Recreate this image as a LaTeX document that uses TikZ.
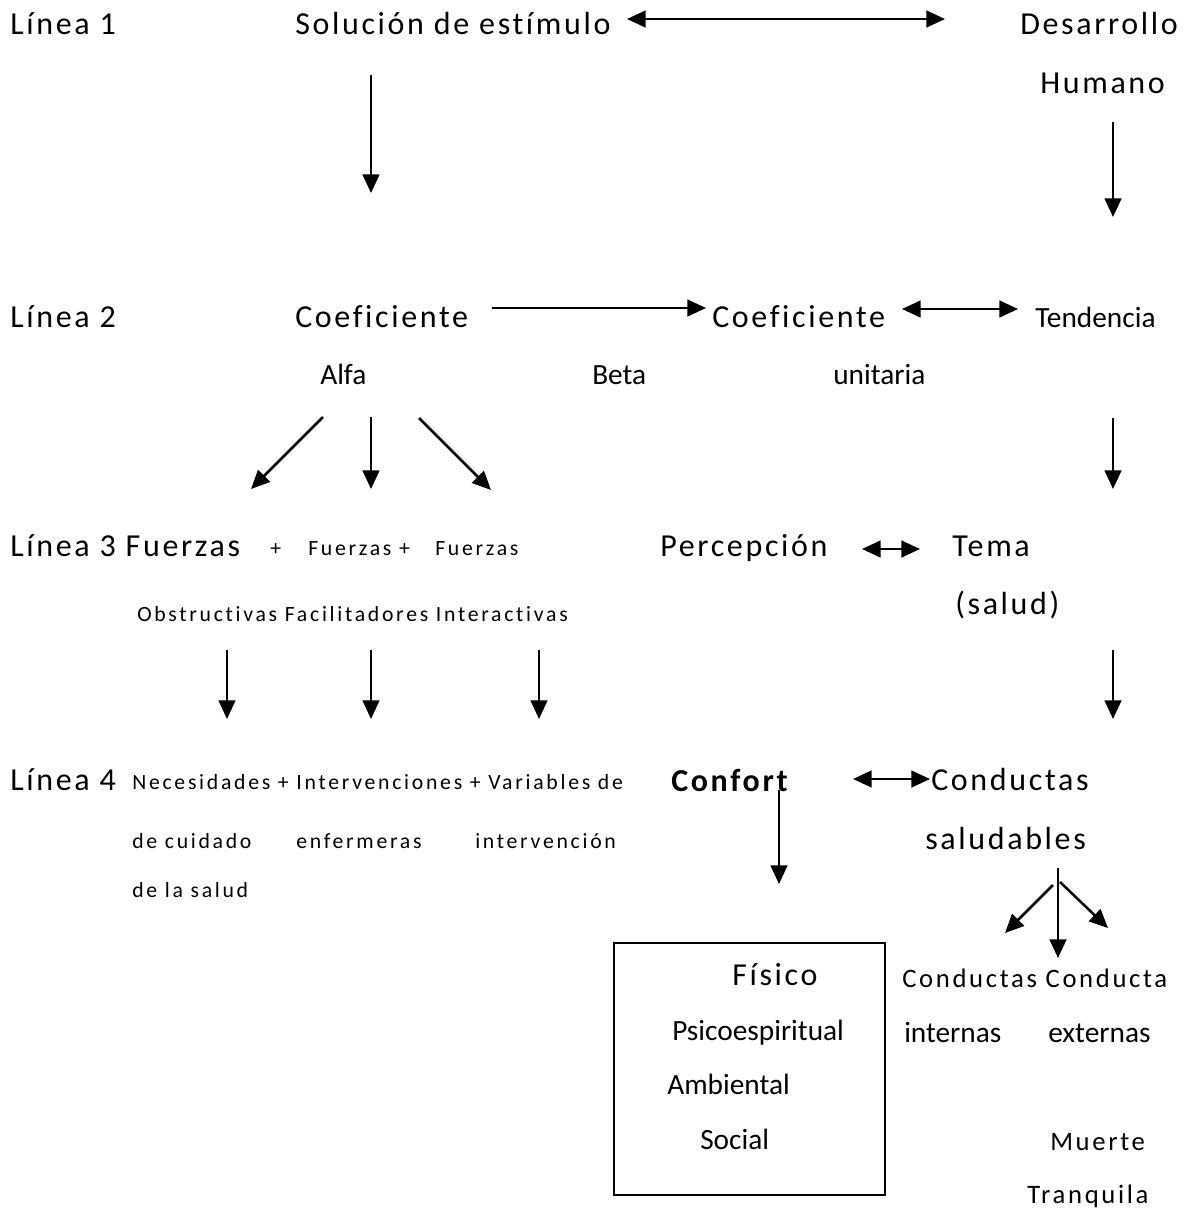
\documentclass[tikz,border=0pt]{standalone}
\usepackage{fontspec}
\setmainfont[Ligatures=NoCommon]{Carlito}
\newfontfamily\bigsp[LetterSpace=8.3,Ligatures=NoCommon]{Carlito}
\newfontfamily\medsp[LetterSpace=10,Ligatures=NoCommon]{Carlito}
\newfontfamily\smsp[LetterSpace=12.5,Ligatures=NoCommon]{Carlito}
\usetikzlibrary{arrows.meta}
\begin{document}
\begin{tikzpicture}[x=0.75pt,y=-0.75pt,
  t/.style={inner sep=0pt, anchor=base west},
  bigt/.style={t, font=\bigsp\fontsize{24}{28}\selectfont},
  boldt/.style={t, font=\bigsp\bfseries\fontsize{24}{28}\selectfont},
  plain/.style={t, font=\fontsize{22}{26}\selectfont},
  medt/.style={t, font=\medsp\fontsize{20}{24}\selectfont},
  smt/.style={t, font=\smsp\fontsize{16.3}{20}\selectfont},
  tip/.tip={Triangle[length=14pt,width=12.5pt]},
  arr/.style={line width=1.9pt, -tip},
  darr/.style={line width=1.9pt, tip-tip},
  framebox/.style={draw, line width=1.6pt, inner sep=0pt, anchor=north west,
    minimum width=203.25pt, minimum height=189pt}]
\fill[white] (0,0) rectangle (1183,1208);
\path[use as bounding box] (0,0) rectangle (1183,1208);

% Row 1
\node[bigt] (l1) at (10,34) {Línea 1};
\node[bigt] (sol) at (295,34) {Solución de estímulo};
\node[bigt] (des) at (1020,34) {Desarrollo};
\node[bigt] (hum) at (1040,93) {Humano};

% Row 2
\node[bigt] (l2) at (10,327) {Línea 2};
\node[bigt] (coa) at (295,327) {Coeficiente};
\node[bigt] (cob) at (712,327) {Coeficiente};
\node[plain] (ten) at (1035,327) {Tendencia};
\node[plain] (alfa) at (320,384) {Alfa};
\node[plain] (beta) at (592,384) {Beta};
\node[plain] (uni) at (833,384) {unitaria};

% Row 3
\node[bigt] (l3) at (10,556) {Línea 3 Fuerzas};
\node[smt] (p1) at (270,555) {+};
\node[smt] (f2) at (308,555) {Fuerzas +};
\node[smt] (f3) at (435,555) {Fuerzas};
\node[smt] (obs) at (137,621) {Obstructivas Facilitadores Interactivas};
\node[bigt] (per) at (660,556) {Percepción};
\node[bigt] (tema) at (952,556) {Tema};
\node[bigt] (salud) at (955,614) {(salud)};

% Row 4
\node[bigt] (l4) at (10,790) {Línea 4};
\node[smt] (nec) at (132,789) {Necesidades + Intervenciones + Variables de};
\node[smt] (cui) at (132,848) {de cuidado};
\node[smt] (enf) at (296,848) {enfermeras};
\node[smt] (intv) at (475,848) {intervención};
\node[smt] (dls) at (132,897) {de la salud};
\node[boldt] (conf) at (671,791) {Confort};
\node[bigt] (cond) at (931,790) {Conductas};
\node[bigt] (salu) at (925,849) {saludables};

% Box
\node[framebox] (box) at (613,942) {};
\node[bigt] (fis) at (732,985) {Físico};
\node[plain] (psi) at (672,1040) {Psicoespiritual};
\node[plain] (amb) at (667,1094) {Ambiental};
\node[plain] (soc) at (700,1149) {Social};

% Right bottom
\node[medt] (cc) at (902,987) {Conductas Conducta};
\node[plain] (inte) at (904,1042) {internas};
\node[plain] (ext) at (1048,1042) {externas};
\node[medt] (mue) at (1050,1150) {Muerte};
\node[medt] (tra) at (1027,1203) {Tranquila};

% Arrow end points
\coordinate (a1s) at (627,19);  \coordinate (a1e) at (945,19);
\coordinate (a2s) at (371,75);  \coordinate (a2e) at (371,193);
\coordinate (a3s) at (1113,122); \coordinate (a3e) at (1113,217);
\coordinate (a4s) at (492,308); \coordinate (a4e) at (706,308);
\coordinate (a5s) at (902,309); \coordinate (a5e) at (1018,309);
\coordinate (a6s) at (323,417); \coordinate (a6e) at (251,489);
\coordinate (a7s) at (371,417); \coordinate (a7e) at (371,489);
\coordinate (a8s) at (419,418); \coordinate (a8e) at (491,490);
\coordinate (a9s) at (1113,418); \coordinate (a9e) at (1113,489);
\coordinate (a10s) at (862,549); \coordinate (a10e) at (920,549);
\coordinate (a11s) at (227,650); \coordinate (a11e) at (227,719);
\coordinate (a12s) at (371,650); \coordinate (a12e) at (371,719);
\coordinate (a13s) at (539,650); \coordinate (a13e) at (539,719);
\coordinate (a14s) at (1113,650); \coordinate (a14e) at (1113,719);
\coordinate (a15s) at (853,779); \coordinate (a15e) at (930,779);
\coordinate (a16s) at (779,790); \coordinate (a16e) at (779,884);
\coordinate (a17s) at (1053,885); \coordinate (a17e) at (1005,933);
\coordinate (a18s) at (1058,868); \coordinate (a18e) at (1058,958);
\coordinate (a19s) at (1060,882); \coordinate (a19e) at (1108,928);

\draw[darr] (a1s) -- (a1e);
\draw[arr] (a2s) -- (a2e);
\draw[arr] (a3s) -- (a3e);
\draw[arr] (a4s) -- (a4e);
\draw[darr] (a5s) -- (a5e);
\draw[arr] (a6s) -- (a6e);
\draw[arr] (a7s) -- (a7e);
\draw[arr] (a8s) -- (a8e);
\draw[arr] (a9s) -- (a9e);
\draw[darr] (a10s) -- (a10e);
\draw[arr] (a11s) -- (a11e);
\draw[arr] (a12s) -- (a12e);
\draw[arr] (a13s) -- (a13e);
\draw[arr] (a14s) -- (a14e);
\draw[darr] (a15s) -- (a15e);
\draw[arr] (a16s) -- (a16e);
\draw[arr] (a17s) -- (a17e);
\draw[arr] (a18s) -- (a18e);
\draw[arr] (a19s) -- (a19e);
\end{tikzpicture}
\end{document}
